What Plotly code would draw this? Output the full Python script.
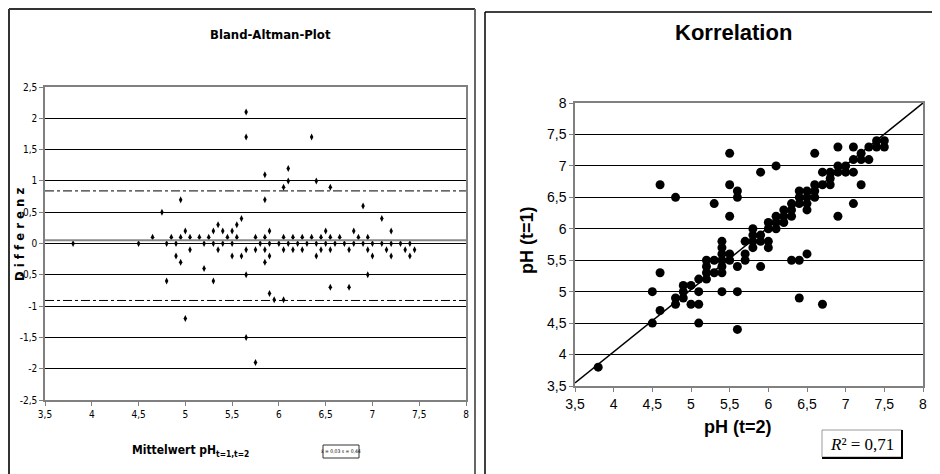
import plotly.graph_objects as go

# ---------------- Data ----------------
# Bland-Altman: mean pH (t=1,t=2) vs difference
ba_mean = [3.80, 4.50, 4.65, 4.75, 4.80, 4.80, 4.85, 4.90, 4.90, 4.95, 4.95, 4.95,
           5.00, 5.00, 5.05, 5.05, 5.15, 5.20, 5.20, 5.25, 5.30, 5.30, 5.30,
           5.35, 5.35, 5.40, 5.40, 5.45, 5.50, 5.50, 5.50, 5.55, 5.55, 5.60, 5.60,
           5.65, 5.65, 5.65, 5.65, 5.65, 5.75, 5.75, 5.75, 5.80,
           5.85, 5.85, 5.85, 5.85, 5.85, 5.90, 5.90, 5.90, 5.90, 5.95, 6.00,
           6.05, 6.05, 6.05, 6.05, 6.10, 6.10, 6.10, 6.15, 6.15, 6.20, 6.25, 6.25,
           6.30, 6.35, 6.35, 6.40, 6.40, 6.40, 6.45, 6.45, 6.50, 6.50,
           6.55, 6.55, 6.55, 6.55, 6.60, 6.65, 6.70, 6.75, 6.75, 6.80, 6.80, 6.85,
           6.90, 6.90, 6.95, 6.95, 6.95, 7.00, 7.00, 7.10, 7.10, 7.15,
           7.20, 7.20, 7.20, 7.30, 7.35, 7.40, 7.40, 7.45]
ba_diff = [0.0, 0.0, 0.1, 0.5, 0.0, -0.6, 0.1, 0.0, -0.2, 0.7, 0.1, -0.3,
           0.2, -1.2, 0.1, -0.1, 0.1, 0.0, -0.4, 0.1, 0.2, 0.0, -0.6,
           0.3, -0.1, 0.2, 0.0, 0.1, 0.2, 0.0, -0.2, 0.3, 0.1, 0.4, -0.2,
           2.1, 1.7, -0.1, -0.5, -1.5, 0.1, -0.1, -1.9, 0.0,
           1.1, 0.7, 0.1, -0.1, -0.3, 0.2, 0.0, -0.2, -0.8, -0.9, 0.0,
           0.9, 0.1, -0.1, -0.9, 1.2, 1.0, 0.0, 0.1, -0.1, 0.0, 0.1, -0.1,
           0.0, 1.7, 0.1, 1.0, 0.0, -0.2, 0.1, -0.1, 0.2, 0.0,
           0.9, 0.1, -0.1, -0.7, 0.0, 0.1, 0.0, -0.1, -0.7, 0.2, 0.0, 0.1,
           0.6, 0.0, 0.1, -0.1, -0.5, 0.0, -0.2, 0.4, 0.0, -0.1,
           0.2, 0.0, -0.2, 0.0, -0.1, 0.0, -0.2, -0.1]
ba_mean_line = 0.05
ba_upper_loa = 0.84
ba_lower_loa = -0.91

# Correlation: pH (t=2) vs pH (t=1)
ph_t2 = [3.8, 4.5, 4.5, 4.6, 4.6, 4.6, 4.8, 4.8, 4.8, 4.9, 4.9, 4.9, 5.0, 5.0,
         5.1, 5.1, 5.1, 5.1, 5.2, 5.2, 5.2, 5.2, 5.3, 5.3, 5.3,
         5.4, 5.4, 5.4, 5.4, 5.4, 5.4, 5.4, 5.5, 5.5, 5.5, 5.5, 5.5,
         5.6, 5.6, 5.6, 5.6, 5.6, 5.7, 5.7, 5.7, 5.8, 5.8, 5.8, 5.8,
         5.9, 5.9, 5.9, 5.9, 6.0, 6.0, 6.0, 6.0, 6.1, 6.1, 6.1, 6.1,
         6.2, 6.2, 6.2, 6.3, 6.3, 6.3, 6.3, 6.4, 6.4, 6.4, 6.4, 6.4,
         6.5, 6.5, 6.5, 6.5, 6.5, 6.6, 6.6, 6.6, 6.6, 6.7, 6.7, 6.7,
         6.8, 6.8, 6.8, 6.9, 6.9, 6.9, 6.9, 7.0, 7.0, 7.1, 7.1, 7.1, 7.1,
         7.2, 7.2, 7.2, 7.3, 7.3, 7.4, 7.4, 7.5, 7.5]
ph_t1 = [3.8, 5.0, 4.5, 6.7, 5.3, 4.7, 6.5, 4.9, 4.8, 5.1, 5.0, 4.9, 5.1, 4.8,
         5.2, 5.0, 4.8, 4.5, 5.5, 5.4, 5.3, 5.2, 6.4, 5.5, 5.3,
         5.8, 5.7, 5.6, 5.5, 5.4, 5.3, 5.0, 7.2, 6.7, 6.2, 5.6, 5.5,
         6.6, 6.5, 5.4, 5.0, 4.4, 5.8, 5.6, 5.5, 6.0, 5.9, 5.8, 5.7,
         6.9, 5.9, 5.8, 5.4, 6.1, 6.0, 5.8, 5.7, 7.0, 6.2, 6.1, 6.0,
         6.3, 6.2, 6.1, 6.4, 6.3, 6.2, 5.5, 6.6, 6.5, 6.4, 5.5, 4.9,
         6.6, 6.5, 6.4, 6.3, 5.6, 7.2, 6.7, 6.6, 6.5, 6.9, 6.7, 4.8,
         6.9, 6.8, 6.7, 7.3, 7.0, 6.9, 6.2, 7.0, 6.9, 7.3, 7.1, 6.9, 6.4,
         7.2, 7.1, 6.7, 7.3, 7.1, 7.4, 7.3, 7.4, 7.3]
identity_x = [3.5, 8.0]
identity_y = [3.55, 8.0]

y_ticks_ba = [-2.5, -2, -1.5, -1, -0.5, 0, 0.5, 1, 1.5, 2, 2.5]
y_ticklabels_ba = ["-2,5", "-2", "-1,5", "-1", "-0,5", "0", "0,5", "1", "1,5", "2", "2,5"]
x_ticks = [3.5, 4, 4.5, 5, 5.5, 6, 6.5, 7, 7.5, 8]
x_ticklabels = ["3,5", "4", "4,5", "5", "5,5", "6", "6,5", "7", "7,5", "8"]
y_ticks_corr = [3.5, 4, 4.5, 5, 5.5, 6, 6.5, 7, 7.5, 8]
y_ticklabels_corr = ["3,5", "4", "4,5", "5", "5,5", "6", "6,5", "7", "7,5", "8"]

# ---------------- Layout helpers ----------------
# The page body adds an 8px offset; the figure is sized so it fills the window.
OFF = 8
W, H = 940 - OFF, 474 - OFF
def px(x):
    return (x - OFF) / W
def py(y):
    return 1 - (y - OFF) / H

NARROW = "Liberation Sans Narrow, DejaVu Sans Condensed, Arial Narrow, sans-serif"
ARIAL = "Liberation Sans, Arial, sans-serif"
SERIF = "Liberation Serif, Times New Roman, serif"

fig = go.Figure()

# Bland-Altman scatter
fig.add_trace(go.Scatter(x=ba_mean, y=ba_diff, mode="markers",
                         marker=dict(symbol="diamond-tall", size=5, color="black"),
                         xaxis="x", yaxis="y", showlegend=False, cliponaxis=False))
# mean line and limits of agreement
fig.add_trace(go.Scatter(x=[x_ticks[0], x_ticks[-1]], y=[ba_mean_line, ba_mean_line],
                         mode="lines", line=dict(color="#888888", width=2),
                         xaxis="x", yaxis="y", showlegend=False))
for v in (ba_upper_loa, ba_lower_loa):
    fig.add_trace(go.Scatter(x=[x_ticks[0], x_ticks[-1]], y=[v, v], mode="lines",
                             line=dict(color="black", width=1, dash="dashdot"),
                             xaxis="x", yaxis="y", showlegend=False))

# Correlation scatter
fig.add_trace(go.Scatter(x=identity_x, y=identity_y, mode="lines",
                         line=dict(color="black", width=1.5),
                         xaxis="x2", yaxis="y2", showlegend=False))
fig.add_trace(go.Scatter(x=ph_t2, y=ph_t1, mode="markers",
                         marker=dict(symbol="circle", size=9, color="black"),
                         xaxis="x2", yaxis="y2", showlegend=False, cliponaxis=False))

axis_common = dict(showline=True, linecolor="#808080", linewidth=1.5, mirror=True,
                   zeroline=False, ticks="outside", tickcolor="#808080", ticklen=4,
                   automargin=False)

fig.update_layout(
    width=W, height=H,
    margin=dict(l=0, r=0, t=0, b=0, autoexpand=False),
    paper_bgcolor="white", plot_bgcolor="white",
    xaxis=dict(domain=[px(45), px(466)], range=[3.5, 8], tickvals=x_ticks,
               ticktext=x_ticklabels, showgrid=False, anchor="y",
               tickfont=dict(family=NARROW, size=10, color="black"), **axis_common),
    yaxis=dict(domain=[py(400), py(87)], range=[-2.5, 2.5], tickvals=y_ticks_ba,
               ticktext=y_ticklabels_ba, showgrid=True, gridcolor="black", gridwidth=1,
               anchor="x", tickfont=dict(family=NARROW, size=10, color="black"),
               **axis_common),
    xaxis2=dict(domain=[px(575), px(923)], range=[3.5, 8], tickvals=x_ticks,
                ticktext=x_ticklabels, showgrid=False, anchor="y2",
                tickfont=dict(family=ARIAL, size=14, color="black"), **axis_common),
    yaxis2=dict(domain=[py(386), py(103)], range=[3.5, 8], tickvals=y_ticks_corr,
                ticktext=y_ticklabels_corr, showgrid=True, gridcolor="black", gridwidth=1,
                anchor="x2", tickfont=dict(family=ARIAL, size=14, color="black"),
                **axis_common),
)

# Panel frames
shapes = [
    # left panel
    dict(type="line", xref="paper", yref="paper", x0=px(9), x1=px(9), y0=py(474), y1=py(9),
         line=dict(color="#333333", width=2)),
    dict(type="line", xref="paper", yref="paper", x0=px(9), x1=px(475), y0=py(9), y1=py(9),
         line=dict(color="#333333", width=2)),
    dict(type="line", xref="paper", yref="paper", x0=px(475), x1=px(475), y0=py(474), y1=py(9),
         line=dict(color="#666666", width=2)),
    # right panel
    dict(type="line", xref="paper", yref="paper", x0=px(485), x1=px(485), y0=py(474), y1=py(12),
         line=dict(color="black", width=1.5)),
    dict(type="line", xref="paper", yref="paper", x0=px(485), x1=px(937), y0=py(12), y1=py(12),
         line=dict(color="black", width=1.5)),
    dict(type="line", xref="paper", yref="paper", x0=px(937), x1=px(937), y0=py(474), y1=py(12),
         line=dict(color="#666666", width=1.5)),
    # legend box in left panel
    dict(type="rect", xref="paper", yref="paper", x0=px(323), x1=px(359), y0=py(458), y1=py(445),
         line=dict(color="#333333", width=1)),
    # R² box
    dict(type="rect", xref="paper", yref="paper", x0=px(822), x1=px(902), y0=py(457), y1=py(430),
         line=dict(color="#999999", width=1)),
    dict(type="line", xref="paper", yref="paper", x0=px(902), x1=px(902), y0=py(458), y1=py(430),
         line=dict(color="black", width=2)),
    dict(type="line", xref="paper", yref="paper", x0=px(822), x1=px(903), y0=py(458), y1=py(458),
         line=dict(color="black", width=2)),
]
fig.update_layout(shapes=shapes)

def ann(text, x, y, size, family, angle=0):
    return dict(text=text, x=px(x), y=py(y), xref="paper", yref="paper",
                showarrow=False, xanchor="center", yanchor="middle", textangle=angle,
                font=dict(family=family, size=size, color="black"))

annotations = [
    ann("<b>Bland-Altman-Plot</b>", 270, 35, 13, NARROW),
    ann("<b>D i f f e r e n z</b>", 20, 235, 13, NARROW, -90),
    ann("<b>Mittelwert pH<sub>t=1,t=2</sub></b>", 190, 451, 12, NARROW),
    ann("x̄ = 0,03 s = 0,44", 341, 451, 5, NARROW),
    ann("<b>Korrelation</b>", 733, 33, 22, ARIAL),
    ann("<b>pH (t=1)</b>", 527, 240, 18, ARIAL, -90),
    ann("<b>pH (t=2)</b>", 738, 427, 18, ARIAL),
    ann("<i>R</i>² = 0,71", 862, 444, 17, SERIF),
]
fig.update_layout(annotations=annotations)

fig.write_html("out.html")
